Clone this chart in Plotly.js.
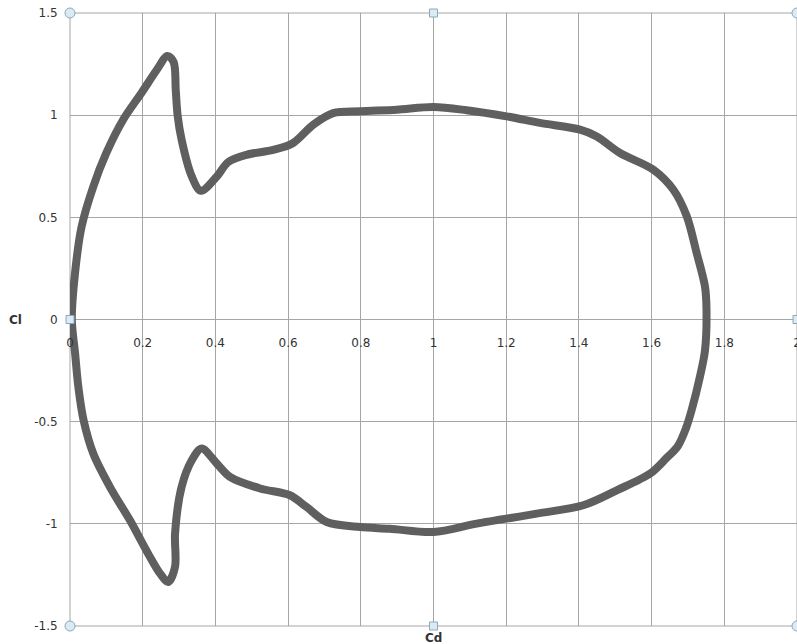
<!DOCTYPE html>
<html>
<head>
<meta charset="utf-8">
<script src="https://cdn.plot.ly/plotly-3.0.1.min.js"></script>
<style>
html,body{margin:0;padding:0;background:#fff;}
#chart{width:797px;height:644px;}
</style>
</head>
<body>
<div id="chart"></div>
<script>
// Polar curve: drag coefficient (Cd) vs lift coefficient (Cl)
const cd = [
  0.005, 0.014, 0.032, 0.064, 0.100, 0.147, 0.197, 0.238, 0.268, 0.285, 0.291, 0.296, 0.307, 0.335, 0.360,
  0.404, 0.435, 0.486, 0.559, 0.614, 0.669, 0.724, 0.798, 0.899, 1.000, 1.091, 1.201, 1.293, 1.403, 1.449,
  1.513, 1.605, 1.660, 1.697, 1.724, 1.747, 1.751,
  1.747, 1.733, 1.710, 1.695, 1.672, 1.640, 1.596, 1.504, 1.412, 1.284, 1.119, 1.000, 0.880, 0.798, 0.706, 0.651,
  0.605, 0.523, 0.440, 0.404, 0.362, 0.335, 0.307, 0.289, 0.289, 0.270, 0.248, 0.215, 0.165, 0.110, 0.064,
  0.037, 0.023, 0.014, 0.005
];
const cl = [
  0.000, 0.230, 0.455, 0.650, 0.815, 0.980, 1.110, 1.220, 1.290, 1.260, 1.120, 1.000, 0.880, 0.700, 0.630,
  0.700, 0.770, 0.806, 0.830, 0.864, 0.953, 1.010, 1.019, 1.027, 1.040, 1.024, 0.994, 0.962, 0.929, 0.896,
  0.815, 0.733, 0.635, 0.504, 0.325, 0.160, 0.050,
  -0.150, -0.280, -0.444, -0.530, -0.620, -0.680, -0.754, -0.836, -0.909, -0.950, -0.999, -1.040, -1.024, -1.016, -0.991, -0.918,
  -0.860, -0.827, -0.770, -0.705, -0.631, -0.689, -0.820, -1.048, -1.210, -1.285, -1.244, -1.146, -0.983, -0.820, -0.656,
  -0.490, -0.330, -0.166, 0.000
];
const xTickVals = [0, 0.2, 0.4, 0.6, 0.8, 1, 1.2, 1.4, 1.6, 1.8, 2];
const xTickText = ['0', '0.2', '0.4', '0.6', '0.8', '1', '1.2', '1.4', '1.6', '1.8', '2'];
const yTickVals = [-1.5, -1, -0.5, 0, 0.5, 1, 1.5];
const yTickText = ['-1.5', '-1', '-0.5', '0', '0.5', '1', '1.5'];
const xTitle = 'Cd';
const yTitle = 'Cl';

const gridColor = '#a6a6a6';
const textColor = '#333333';

const trace = {
  x: cd, y: cl, type: 'scatter', mode: 'lines',
  line: {color: '#5f5f5f', width: 8, shape: 'spline', smoothing: 0.9},
  hoverinfo: 'skip', showlegend: false
};

function handle(type, px, py, r) {
  return {
    type: type, xref: 'paper', yref: 'paper',
    xsizemode: 'pixel', ysizemode: 'pixel',
    xanchor: px, yanchor: py,
    x0: -r, x1: r, y0: -r, y1: r,
    fillcolor: '#dcebf3', line: {color: '#8aa9ba', width: 1}, layer: 'above'
  };
}

const shapes = [
  {type: 'rect', xref: 'paper', yref: 'paper', x0: 0, x1: 1, y0: 0, y1: 1,
   line: {color: gridColor, width: 1}, layer: 'below'},
  handle('circle', 0, 1, 5), handle('circle', 1, 1, 5),
  handle('circle', 0, 0, 5), handle('circle', 1, 0, 5),
  handle('rect', 0.5, 1, 4), handle('rect', 0.5, 0, 4),
  handle('rect', 0, 0.5, 4), handle('rect', 1, 0.5, 4)
];

const layout = {
  width: 797, height: 644,
  margin: {l: 70, r: 0, t: 13, b: 18, pad: 0},
  paper_bgcolor: '#ffffff', plot_bgcolor: '#ffffff',
  font: {family: 'DejaVu Sans, sans-serif', size: 12, color: textColor},
  xaxis: {
    range: [0, 2], tickvals: xTickVals, ticktext: xTickText,
    showgrid: true, gridcolor: gridColor, gridwidth: 1,
    zeroline: false, showline: false,
    ticks: 'outside', ticklen: 12, tickcolor: 'rgba(0,0,0,0)',
    anchor: 'free', position: 0.5, ticklabeloverflow: 'allow',
    fixedrange: true
  },
  yaxis: {
    range: [-1.5, 1.5], tickvals: yTickVals, ticktext: yTickText,
    showgrid: true, gridcolor: gridColor, gridwidth: 1,
    zeroline: true, zerolinecolor: gridColor, zerolinewidth: 1,
    showline: false, anchor: 'free', position: 0,
    ticks: 'outside', ticklen: 10, tickcolor: 'rgba(0,0,0,0)', automargin: false,
    fixedrange: true
  },
  shapes: shapes,
  annotations: [
    {text: '<b>' + yTitle + '</b>', xref: 'paper', yref: 'paper', x: -0.075, y: 0.5,
     xanchor: 'center', yanchor: 'middle', showarrow: false, font: {size: 12, color: textColor}},
    {text: '<b>' + xTitle + '</b>', xref: 'paper', yref: 'paper', x: 0.5, y: 0, yshift: -12,
     xanchor: 'center', yanchor: 'middle', showarrow: false, font: {size: 12, color: textColor}}
  ]
};

Plotly.newPlot('chart', [trace], layout, {staticPlot: true, displayModeBar: false});
</script>
</body>
</html>
